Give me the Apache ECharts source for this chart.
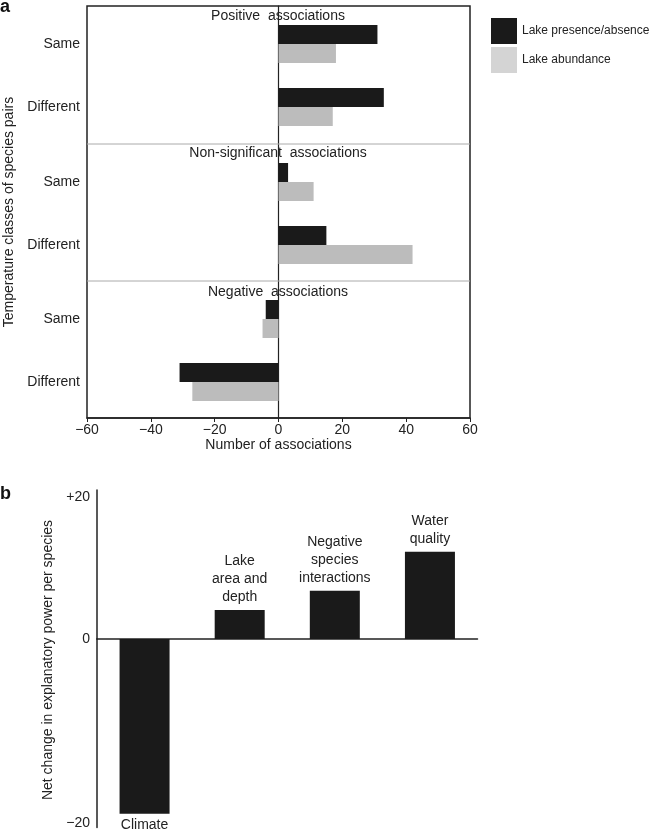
<!DOCTYPE html>
<html>
<head>
<meta charset="utf-8">
<script src="https://cdn.jsdelivr.net/npm/echarts@6/dist/echarts.min.js"></script>
<style>
html,body{margin:0;padding:0;background:#fff;}
#main{width:651px;height:831px;}
</style>
</head>
<body>
<div id="main"></div>
<script>
// ---- Panel a data ----
const tempClasses = ['Same', 'Different'];
const groupTitles = ['Positive  associations', 'Non-significant  associations', 'Negative  associations'];
const presencePositive = [31, 33];
const abundancePositive = [18, 17];
const presenceNonSig = [3, 15];
const abundanceNonSig = [11, 42];
const presenceNegative = [-4, -31];
const abundanceNegative = [-5, -27];
const seriesNames = ['Lake presence/absence', 'Lake abundance'];
const xMinA = -60, xMaxA = 60, xStepA = 20;

// ---- Panel b data ----
const factorsB = ['Climate', 'Lake\narea and\ndepth', 'Negative\nspecies\ninteractions', 'Water\nquality'];
const netChangeB = [-19, 4.1, 6.8, 12.3];
const yTicksBUpper = [0, 20];
const yTicksBLower = [-20];

const FONT = 'Liberation Sans, Arial, Helvetica, sans-serif';
const BLACK = '#1a1a1a', GRAY = '#bcbcbc', LEGEND_GRAY = '#d4d4d4', TXT = '#222';
const minus = v => (v < 0 ? '\u2212' + (-v) : String(v));

const chart = echarts.init(document.getElementById('main'), null, {renderer: 'canvas'});

// layout of panel a
const A_LEFT = 87, A_WIDTH = 383, A_TOP = 6, A_HEIGHT = 412;
const groupTops = [6, 144, 281];
const groupData = [
  [presencePositive, abundancePositive],
  [presenceNonSig, abundanceNonSig],
  [presenceNegative, abundanceNegative]
];

const grid = [{left: A_LEFT, top: A_TOP, width: A_WIDTH, height: A_HEIGHT, show: true,
  borderColor: '#222', borderWidth: 1.5, backgroundColor: 'transparent'}];
const xAxis = [{
  gridIndex: 0, type: 'value', min: xMinA, max: xMaxA, interval: xStepA,
  axisLine: {show: true, onZero: false, lineStyle: {color: '#222', width: 1.5}},
  axisTick: {show: true, inside: false, length: 4, lineStyle: {color: '#222'}},
  axisLabel: {fontSize: 14, color: TXT, fontFamily: FONT, margin: 5, formatter: minus},
  splitLine: {show: false},
  name: 'Number of associations', nameLocation: 'middle', nameGap: 18,
  nameTextStyle: {fontSize: 14, color: TXT, fontFamily: FONT}
}];
const yAxis = [{
  gridIndex: 0, type: 'value', min: 0, max: 1,
  axisLine: {show: true, onZero: true, lineStyle: {color: '#222', width: 1.2}},
  axisTick: {show: false}, axisLabel: {show: false}, splitLine: {show: false}
}];
const series = [];

groupData.forEach((pair, g) => {
  const gi = grid.length;
  grid.push({left: A_LEFT, width: A_WIDTH, top: groupTops[g] + 6.5, height: 126});
  xAxis.push({gridIndex: gi, type: 'value', min: xMinA, max: xMaxA, show: false});
  yAxis.push({
    gridIndex: gi, type: 'category', data: tempClasses, inverse: true,
    axisLine: {show: false, onZero: false}, axisTick: {show: false},
    axisLabel: {fontSize: 14, color: TXT, fontFamily: FONT, margin: 7}
  });
  pair.forEach((vals, s) => {
    series.push({
      type: 'bar', name: seriesNames[s], xAxisIndex: gi, yAxisIndex: gi,
      data: vals, barWidth: 19, barGap: '0%',
      itemStyle: {color: s === 0 ? BLACK : GRAY},
      silent: true, animation: false
    });
  });
});

// layout of panel b
const B_LEFT = 97, B_WIDTH = 380.5;
const B_ZERO = 639;
const upperMax = 21, upperPx = 7.1;
const lowerMin = -20.5, lowerPx = 9.2;
const gU = grid.length;
grid.push({left: B_LEFT, width: B_WIDTH, top: B_ZERO - upperMax * upperPx, height: upperMax * upperPx});
const gL = grid.length;
grid.push({left: B_LEFT, width: B_WIDTH, top: B_ZERO, height: -lowerMin * lowerPx});

xAxis.push({gridIndex: gU, type: 'category', data: factorsB,
  axisLine: {show: true, onZero: false, lineStyle: {color: '#222', width: 1.5}},
  axisTick: {show: false}, axisLabel: {show: false}});
xAxis.push({gridIndex: gL, type: 'category', data: factorsB, show: false});
yAxis.push({gridIndex: gU, type: 'value', min: 0, max: upperMax,
  axisLine: {show: true, lineStyle: {color: '#222', width: 1.5}},
  axisTick: {show: false}, splitLine: {show: false},
  axisLabel: {customValues: yTicksBUpper, fontSize: 14, color: TXT, fontFamily: FONT, margin: 7,
    formatter: v => (v > 0 ? '+' + v : minus(v))}});
yAxis.push({gridIndex: gL, type: 'value', min: lowerMin, max: 0,
  axisLine: {show: true, lineStyle: {color: '#222', width: 1.5}},
  axisTick: {show: false}, splitLine: {show: false},
  axisLabel: {customValues: yTicksBLower, fontSize: 14, color: TXT, fontFamily: FONT, margin: 7,
    formatter: minus}});

const labelB = {show: true, fontSize: 14, color: TXT, fontFamily: FONT, lineHeight: 18,
  formatter: p => factorsB[p.dataIndex]};
series.push({
  type: 'bar', name: 'b-up', xAxisIndex: gU, yAxisIndex: gU,
  data: netChangeB.map(v => (v > 0 ? v : '-')), barWidth: 50,
  itemStyle: {color: BLACK}, silent: true, animation: false,
  label: Object.assign({position: 'top', distance: 4}, labelB)
});
series.push({
  type: 'bar', name: 'b-down', xAxisIndex: gL, yAxisIndex: gL,
  data: netChangeB.map(v => (v < 0 ? v : '-')), barWidth: 50,
  itemStyle: {color: BLACK}, silent: true, animation: false,
  label: Object.assign({position: 'bottom', distance: 2}, labelB)
});

// annotations
const graphic = [];
[144, 281].forEach(y => graphic.push({type: 'line', silent: true, z: 1,
  shape: {x1: A_LEFT, y1: y, x2: A_LEFT + A_WIDTH, y2: y}, style: {stroke: '#aaa', lineWidth: 1}}));
const titleYs = [16, 153, 292];
groupTitles.forEach((t, i) => graphic.push({type: 'text', x: 278, y: titleYs[i], z: 10,
  style: {text: t, fontSize: 14, fill: TXT, fontFamily: FONT, align: 'center', verticalAlign: 'middle'}}));
graphic.push({type: 'text', x: 9, y: 212, rotation: Math.PI / 2,
  style: {text: 'Temperature classes of species pairs', fontSize: 14, fill: TXT, fontFamily: FONT,
    align: 'center', verticalAlign: 'middle'}});
graphic.push({type: 'text', x: 48, y: 660, rotation: Math.PI / 2,
  style: {text: 'Net change in explanatory power per species', fontSize: 14, fill: TXT, fontFamily: FONT,
    align: 'center', verticalAlign: 'middle'}});
graphic.push({type: 'text', x: 0, y: 7, style: {text: 'a', fontSize: 18, fontWeight: 'bold', fill: '#111',
  fontFamily: FONT, align: 'left', verticalAlign: 'middle'}});
graphic.push({type: 'text', x: 0, y: 494, style: {text: 'b', fontSize: 18, fontWeight: 'bold', fill: '#111',
  fontFamily: FONT, align: 'left', verticalAlign: 'middle'}});

chart.setOption({
  animation: false,
  backgroundColor: '#fff',
  textStyle: {fontFamily: FONT},
  grid, xAxis, yAxis, series, graphic,
  legend: {
    orient: 'vertical', left: 486, top: 13, itemWidth: 26, itemHeight: 26, itemGap: 3,
    icon: 'rect', selectedMode: false,
    textStyle: {fontSize: 12, color: TXT, fontFamily: FONT},
    data: [
      {name: seriesNames[0], itemStyle: {color: BLACK}},
      {name: seriesNames[1], itemStyle: {color: LEGEND_GRAY}}
    ]
  }
});
</script>
</body>
</html>
